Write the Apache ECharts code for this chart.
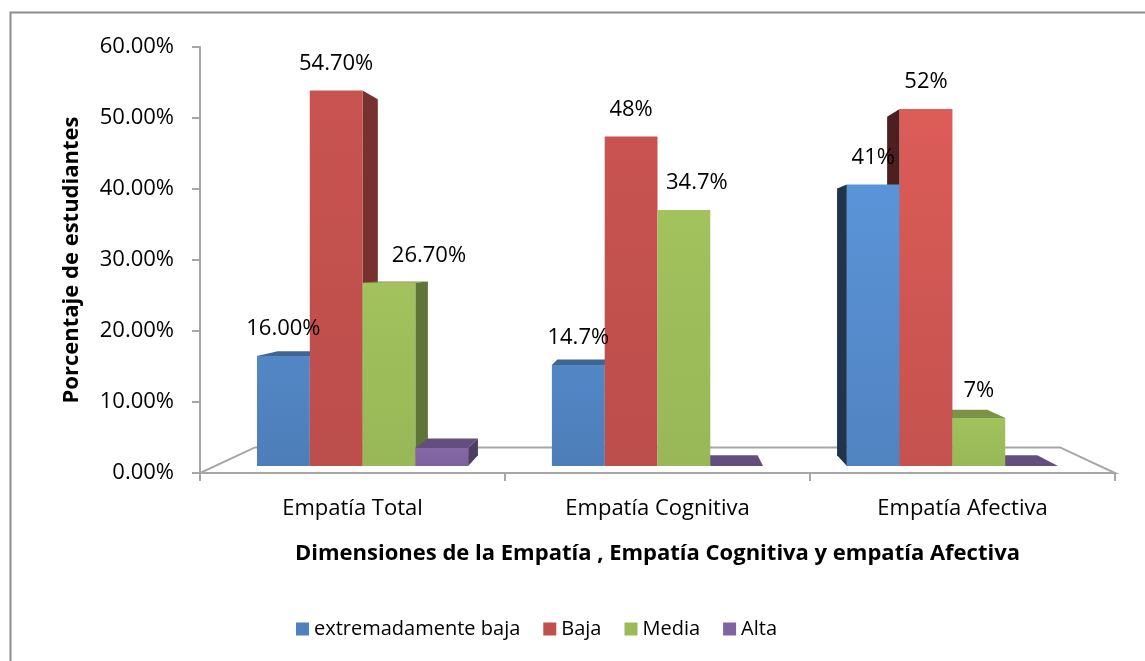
<!DOCTYPE html>
<html>
<head>
<meta charset="utf-8">
<title>Empatía</title>
<script src="https://cdn.jsdelivr.net/npm/echarts@6/dist/echarts.min.js"></script>
<style>
  html, body { margin: 0; padding: 0; background: #fff; }
  #chart { width: 1145px; height: 661px; }
</style>
</head>
<body>
<div id="chart"></div>
<script>
// datos
const categorias = ["Empatía Total", "Empatía Cognitiva", "Empatía Afectiva"];
const nombres = ["extremadamente baja", "Baja", "Media", "Alta"];
const extBaja = [16.0, 14.7, 41];
const baja = [54.7, 48, 52];
const media = [26.7, 37.3, 7];
const alta = [2.6, 0, 0];
const etiquetasExtBaja = ["16.00%", "14.7%", "41%"];
const etiquetasBaja = ["54.70%", "48%", "52%"];
const etiquetasMedia = ["26.70%", "34.7%", "7%"];
const etiquetasAlta = ["", "", ""];
const yTicks = [0, 10, 20, 30, 40, 50, 60];

const colores = ["#4F81BD", "#C0504D", "#9BBB59", "#8064A2"];
const FONT = "Open Sans";

// un poco de desplazamiento para dos etiquetas (como en el original)
const ajusteEtiqueta = { "2-0": 40, "2-1": 13 };

function shade(hex, f) {
  const n = parseInt(hex.slice(1), 16);
  const c = (x) => Math.min(255, Math.round(x * f));
  return "rgb(" + c((n >> 16) & 255) + "," + c((n >> 8) & 255) + "," + c(n & 255) + ")";
}

// barras 3D con perspectiva hacia el centro del grid
const D1 = 0.033, D2 = 0.083, DF = 0.12;
function barra3d(params, api) {
  const s = params.seriesIndex;
  const cat = api.value(0), v = api.value(1);
  const cs = params.coordSys;
  const vp = [cs.x + cs.width / 2, cs.y + cs.height / 2];
  const P = (x, y, d) => [x + d * (vp[0] - x), y + d * (vp[1] - y)];
  const band = api.size([1, 0])[0];
  const bw = band * 0.179;
  const base = api.coord([cat, 0]);
  const yv = api.coord([cat, v])[1];
  const x1 = base[0] - 2 * bw + s * bw, x2 = x1 + bw, y0 = base[1];
  const A = P(x1, yv, D1), B = P(x2, yv, D1), C = P(x2, y0, D1), Dd = P(x1, y0, D1);
  const A2 = P(x1, yv, D2), B2 = P(x2, yv, D2), C2 = P(x2, y0, D2), D2p = P(x1, y0, D2);
  const col = colores[s];
  // la ultima categoria se ve mas iluminada
  const luz = cat === 2 && s < 2 ? 1.1 : 1.0;
  const kids = [];
  if (A2[1] < A[1]) {
    kids.push({ type: "polygon", z2: 2, shape: { points: [A, B, B2, A2] }, style: { fill: shade(col, 0.78) } });
  }
  if (B2[0] > B[0]) {
    kids.push({ type: "polygon", z2: 1, shape: { points: [B, B2, C2, C] }, style: { fill: shade(col, 0.62) } });
  }
  if (A2[0] < A[0]) {
    kids.push({ type: "polygon", z2: 1, shape: { points: [A, A2, D2p, Dd] }, style: { fill: shade(col, 0.4) } });
  }
  if (v > 0) {
    kids.push({
      type: "polygon", z2: 3, shape: { points: [A, B, C, Dd] },
      style: {
        fill: new echarts.graphic.LinearGradient(0, 0, 0, 1, [
          { offset: 0, color: shade(col, 1.04 * luz) },
          { offset: 1, color: shade(col, 0.98 * (luz > 1 ? 1.04 : 1)) }
        ])
      }
    });
  }
  const txt = etiquetas[s][cat];
  if (txt) {
    const dx = ajusteEtiqueta[s + "-" + cat] || 0;
    kids.push({
      type: "text", z2: 5,
      style: {
        text: txt, x: (A[0] + B[0]) / 2 + dx, y: A[1] - 27,
        align: "center", verticalAlign: "middle",
        font: "22px '" + FONT + "'", fill: "#000"
      }
    });
  }
  // piso (solo una vez)
  if (s === 0 && cat === 0) {
    const xl = cs.x, xr = cs.x + cs.width, yb = cs.y + cs.height;
    kids.push({
      type: "polygon", z2: 0,
      shape: { points: [P(xl, yb, 0), P(xr, yb, 0), P(xr, yb, DF), P(xl, yb, DF)] },
      style: { fill: "#fff", stroke: "#A6A6A6", lineWidth: 2 }
    });
  }
  return { type: "group", children: kids };
}

const etiquetas = [etiquetasExtBaja, etiquetasBaja, etiquetasMedia, etiquetasAlta];
const valores = [extBaja, baja, media, alta];

const myChart = echarts.init(document.getElementById("chart"));
const option = {
  backgroundColor: "#fff",
  animation: false,
  color: colores,
  textStyle: { fontFamily: FONT },
  graphic: [
    {
      type: "rect", left: 8, top: 10, silent: true,
      shape: { width: 1200, height: 700 },
      style: { fill: "none", stroke: "#8C8C8C", lineWidth: 2 }
    }
  ],
  legend: {
    data: nombres,
    left: 291,
    top: 614,
    icon: "rect",
    itemWidth: 13,
    itemHeight: 13,
    itemGap: 23,
    textStyle: { fontSize: 20, color: "#000", fontFamily: FONT }
  },
  grid: { left: 200, right: 30, top: 47, bottom: 188 },
  xAxis: {
    type: "category",
    data: categorias,
    name: "Dimensiones de la Empatía , Empatía Cognitiva y empatía Afectiva",
    nameLocation: "middle",
    nameGap: 70,
    nameTextStyle: { fontSize: 22, fontWeight: "bold", color: "#000", fontFamily: FONT },
    axisLine: { lineStyle: { color: "#A6A6A6", width: 2 } },
    axisTick: { show: true, length: 8, lineStyle: { color: "#A6A6A6", width: 2 } },
    axisLabel: { fontSize: 22, color: "#000", margin: 25, fontFamily: FONT }
  },
  yAxis: {
    type: "value",
    min: yTicks[0],
    max: yTicks[yTicks.length - 1],
    interval: 10,
    name: "Porcentaje de estudiantes",
    nameLocation: "middle",
    nameGap: 117,
    nameTextStyle: { fontSize: 22, fontWeight: "bold", color: "#000", fontFamily: FONT },
    axisLine: { show: true, lineStyle: { color: "#A6A6A6", width: 2 } },
    axisTick: { show: true, length: 8, lineStyle: { color: "#A6A6A6", width: 2 } },
    splitLine: { show: false },
    axisLabel: {
      fontSize: 22, color: "#000", margin: 26, fontFamily: FONT,
      formatter: (v) => v.toFixed(2) + "%"
    }
  },
  series: nombres.map((n, i) => ({
    name: n,
    type: "custom",
    renderItem: barra3d,
    encode: { x: 0, y: 1 },
    data: valores[i].map((v, j) => [j, v])
  }))
};
myChart.setOption(option);
window.onresize = function () {
  myChart.resize();
};
</script>
</body>
</html>
